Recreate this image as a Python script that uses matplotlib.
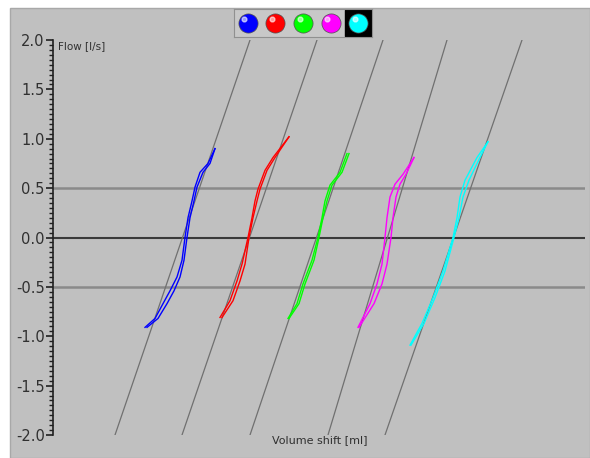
import matplotlib
matplotlib.use("Agg")
import matplotlib.pyplot as plt
from matplotlib.patches import Rectangle
from matplotlib.ticker import MultipleLocator

# Data: flow [l/s] and volume shift [ml] for each loop (two branches)
colors = ["#0000ff", "#ff0000", "#00ff00", "#ff00ff", "#00ffff"]

blue_flow = [-0.91, -0.82, -0.67, -0.54, -0.40, -0.23, 0.0, 0.20, 0.37, 0.51, 0.66, 0.75, 0.90]
blue_up = [9.2, 10.2, 11.0, 11.7, 12.4, 12.9, 13.2, 13.5, 13.9, 14.2, 14.7, 15.5, 16.2]
blue_down = [9.4, 10.5, 11.4, 12.1, 12.7, 13.1, 13.4, 13.7, 14.1, 14.4, 15.0, 15.7, 16.2]

red_flow = [-0.81, -0.64, -0.44, -0.27, 0.0, 0.20, 0.37, 0.49, 0.68, 0.81, 1.02]
red_up = [16.7, 17.7, 18.4, 18.9, 19.5, 19.9, 20.2, 20.5, 21.2, 22.0, 23.6]
red_down = [16.9, 18.0, 18.7, 19.2, 19.6, 20.0, 20.4, 20.7, 21.4, 22.2, 23.6]

green_flow = [-0.82, -0.67, -0.47, -0.23, 0.0, 0.20, 0.37, 0.53, 0.66, 0.85]
green_up = [23.5, 24.4, 25.0, 25.9, 26.5, 26.9, 27.2, 27.7, 28.7, 29.4]
green_down = [23.6, 24.6, 25.2, 26.1, 26.6, 27.0, 27.4, 27.9, 28.9, 29.6]

magenta_flow = [-0.91, -0.67, -0.47, -0.27, 0.0, 0.20, 0.41, 0.54, 0.64, 0.81]
magenta_up = [30.5, 31.7, 32.4, 32.9, 33.2, 33.4, 33.7, 34.2, 35.0, 36.1]
magenta_down = [30.6, 32.1, 32.9, 33.4, 33.8, 34.0, 34.3, 34.7, 35.3, 36.1]

cyan_flow = [-1.09, -0.87, -0.61, -0.34, 0.0, 0.20, 0.41, 0.58, 0.81, 0.97]
cyan_up = [35.7, 36.9, 38.0, 39.0, 40.0, 40.4, 40.7, 41.2, 42.4, 43.5]
cyan_down = [35.8, 37.1, 38.2, 39.2, 40.1, 40.6, 41.0, 41.6, 42.7, 43.5]

# reference (compliance) lines: volume at flow -2 and at flow +2
ref_bottom = [6.2, 12.9, 19.7, 27.5, 33.2]
ref_top = [19.7, 26.4, 33.0, 39.4, 46.9]
ref_flow = [-2.0, 2.0]

loops = [
    (blue_flow, blue_up, blue_down),
    (red_flow, red_up, red_down),
    (green_flow, green_up, green_down),
    (magenta_flow, magenta_up, magenta_down),
    (cyan_flow, cyan_up, cyan_down),
]

W, H = 590, 458
fig = plt.figure(figsize=(W / 100, H / 100), dpi=100)
fig.patch.set_facecolor("white")

# grey panel behind everything
fig.add_artist(Rectangle((10 / W, 0), 580 / W, (H - 8) / H, transform=fig.transFigure,
                         facecolor="#c0c0c0", edgecolor="#a8a8a8", lw=1, zorder=0))

ax = fig.add_axes([53 / W, 23 / H, 532 / W, 395 / H])
ax.set_facecolor("none")
ax.set_xlim(0, 53.2)
ax.set_ylim(-2, 2)

for s in ["top", "right", "bottom"]:
    ax.spines[s].set_visible(False)
ax.spines["left"].set_color("#202020")
ax.spines["left"].set_linewidth(1.2)

ax.yaxis.set_major_locator(MultipleLocator(0.5))
ax.yaxis.set_minor_locator(MultipleLocator(0.05))
ax.yaxis.set_major_formatter(lambda v, p: f"{v:.1f}")
ax.tick_params(axis="y", which="major", length=5, width=1.2, color="#202020",
               labelsize=10.5, labelcolor="#303030", pad=1)
ax.tick_params(axis="y", which="minor", length=3, width=1, color="#202020")
ax.set_xticks([])

# horizontal lines
for yv in [0.5, -0.5]:
    ax.axhline(yv, color="#8a8a8a", lw=1.8, zorder=1)
ax.axhline(0, color="#3a3a3a", lw=1.5, zorder=1)

# reference lines
for b, t in zip(ref_bottom, ref_top):
    ax.plot([b, t], ref_flow, color="#707070", lw=0.9, zorder=2)

# hysteresis loops
for (fl, up, down), c in zip(loops, colors):
    ax.plot(up, fl, color=c, lw=1.0, zorder=3)
    ax.plot(down, fl, color=c, lw=1.0, zorder=3)

ax.text(0.01, 0.985, "Flow [l/s]", transform=ax.transAxes, fontsize=7.5,
        color="#303030", ha="left", va="center")
fig.text(320 / W, 1 - 440 / H, "Volume shift [ml]", fontsize=8, color="#303030",
         ha="center", va="center")

# colour selector box at the top
lax = fig.add_axes([234 / W, 1 - 37 / H, 138 / W, 28 / H])
lax.set_facecolor("#c8c8c8")
lax.set_xlim(-0.5, len(colors) - 0.5)
lax.set_ylim(-0.5, 0.5)
lax.set_xticks([])
lax.set_yticks([])
for s in lax.spines.values():
    s.set_color("#909090")
for i, c in enumerate(colors):
    if i == len(colors) - 1:
        lax.scatter([i], [0], s=330, marker="s", color="black", zorder=1)
    lax.scatter([i], [0], s=190, color=c, edgecolors="#505050", linewidths=0.5, zorder=2)
    lax.scatter([i - 0.12], [0.15], s=12, color="white", alpha=0.6, zorder=3)

fig.savefig("out.png", dpi=100)
